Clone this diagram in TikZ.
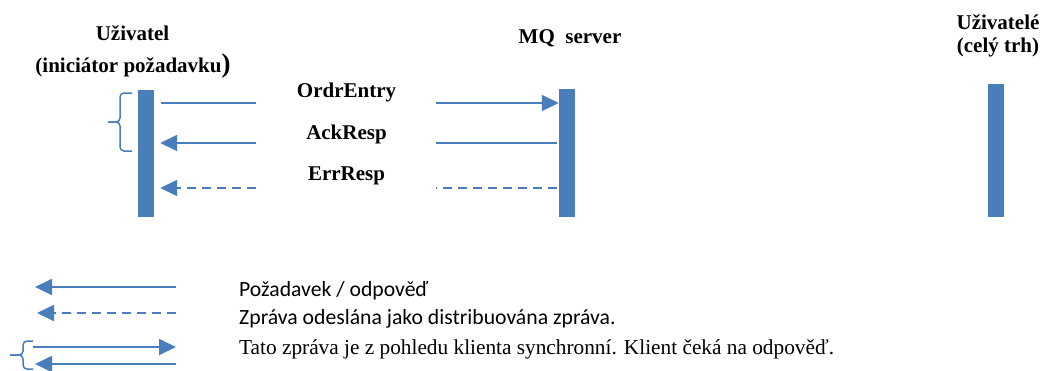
\documentclass[tikz,border=0pt]{standalone}
\usepackage{fontspec}
\setmainfont{Liberation Serif}
\newfontfamily\tnr{Liberation Serif}
\newfontfamily\legsans{Carlito}
\usetikzlibrary{arrows.meta}
\definecolor{mqblue}{HTML}{4A7EBB}
\definecolor{barblue}{HTML}{4A7EBB}
\begin{document}
\begin{tikzpicture}[x=1pt,y=-1pt,
  lifeline/.style={fill=barblue, draw=none, minimum width=16pt, inner sep=0pt, anchor=north},
  hdr/.style={font=\tnr\bfseries\fontsize{21}{24}\selectfont, inner sep=0pt, anchor=base},
  lbl/.style={font=\tnr\bfseries\fontsize{21}{24}\selectfont, inner sep=0pt, anchor=base},
  msgline/.style={draw=mqblue, line width=1.8pt},
  tip/.style={-{Triangle[length=17pt,width=16pt]}},
  dashline/.style={dash pattern=on 9pt off 6pt},
  brace/.style={draw=mqblue, line width=1.5pt, rounded corners=4pt},
  legtext/.style={inner sep=0pt, anchor=base west, text=black}
]
\fill[white] (0,0) rectangle (1044,370);
\useasboundingbox (0,0) rectangle (1044,370);

% headers
\node[hdr] (h1) at (132.5,40) {Uživatel};
\node[hdr] (h1b) at (133,72) {(iniciátor požadavku{\fontsize{27}{27}\selectfont )}};
\node[hdr] (h2) at (570,43) {MQ\ \ server};
\node[hdr] (h3) at (998,29) {Uživatelé};
\node[hdr] (h3b) at (998,52) {(celý trh)};

% lifelines
\node[lifeline, minimum height=127pt] (L) at (146,90) {};
\node[lifeline, minimum height=128pt] (M) at (567,89) {};
\node[lifeline, minimum height=133pt] (R) at (996,84) {};

% labels
\node[lbl] (ordr) at (346.5,97) {OrdrEntry};
\node[lbl] (ack) at (346.5,139) {AckResp};
\node[lbl] (err) at (346.5,180) {ErrResp};

% message segments
\coordinate (oA) at (256,103); \coordinate (oB) at (436,103);
\coordinate (aA) at (256,143); \coordinate (aB) at (436,143);
\coordinate (eA) at (256,188); \coordinate (eB) at (436,188);

\draw[msgline, shorten <=7pt] (L.east |- oA) -- (oA);
\draw[msgline, tip] (oB) -- (M.west |- oB);
\draw[msgline, tip, shorten >=6pt] (aA) -- (L.east |- aA);
\draw[msgline, shorten <=2pt] (M.west |- aB) -- (aB);
\draw[msgline, dashline, tip, shorten >=6pt] (eA) -- (L.east |- eA);
\draw[msgline, dashline, shorten <=2pt] (M.west |- eB) -- (eB);

% brace left
\draw[brace] (132,93) -- (120,93) -- (120,122) -- (108,122);
\draw[brace] (108,122) -- (120,122) -- (120,151) -- (132,151);

% legend
\coordinate (l1a) at (35,287); \coordinate (l1b) at (176,287);
\coordinate (l2a) at (37,313); \coordinate (l2b) at (176,313);
\coordinate (l3a) at (33,347); \coordinate (l3b) at (176,347);
\coordinate (l4a) at (35,364); \coordinate (l4b) at (176,364);
\draw[msgline, tip] (l1b) -- (l1a);
\draw[msgline, dashline, tip] (l2b) -- (l2a);
\draw[msgline, tip] (l3a) -- (l3b);
\draw[msgline, tip] (l4b) -- (l4a);
\draw[brace] (33,341) -- (23,341) -- (23,355) -- (10,355);
\draw[brace] (10,355) -- (23,355) -- (23,369) -- (33,369);

\node[legtext, font=\legsans\fontsize{21.7}{23}\selectfont] (t1) at (239,296) {Požadavek / odpověď};
\node[legtext, font=\legsans\fontsize{21.7}{23}\selectfont] (t2) at (239,324) {Zpráva odeslána jako distribuována zpráva.};
\node[legtext, font=\tnr\fontsize{21.3}{23}\selectfont] (t3) at (239,354.5) {Tato zpráva je z pohledu klienta synchronní. Klient čeká na odpověď.};
\end{tikzpicture}
\end{document}
